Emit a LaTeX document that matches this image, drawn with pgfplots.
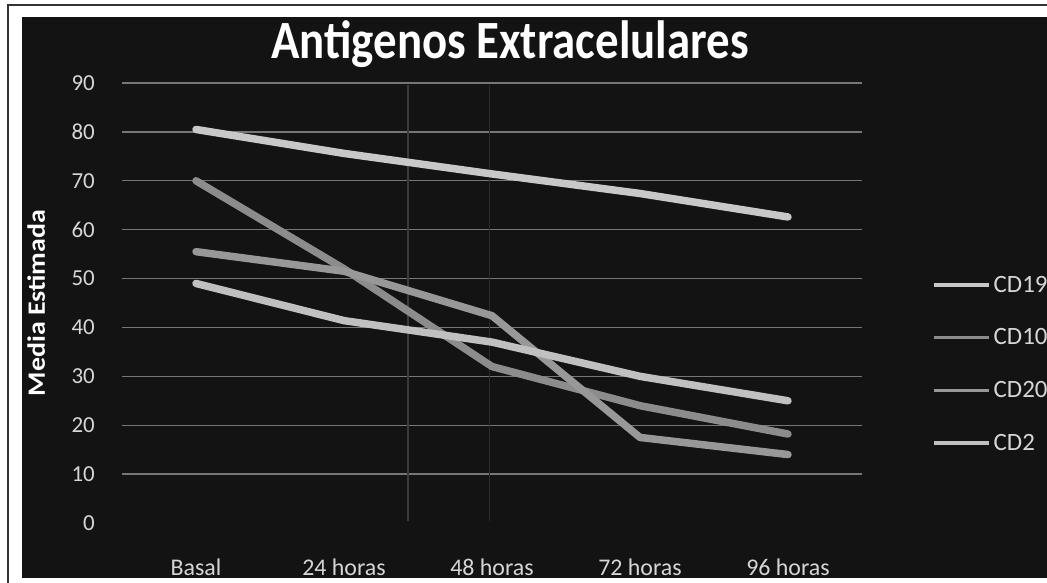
\documentclass[border=0pt]{standalone}
\usepackage{fontspec}
\setmainfont{Carlito}
\usepackage{pgfplots}
\pgfplotsset{compat=1.18}

\definecolor{bgblack}{HTML}{131313}
\definecolor{gridgray}{HTML}{767676}
\definecolor{labelgray}{HTML}{D6D6D6}
\definecolor{cdnineteen}{HTML}{C8C8C8}
\definecolor{cdten}{HTML}{8C8C8C}
\definecolor{cdtwenty}{HTML}{989898}
\definecolor{cdtwo}{HTML}{C0C0C0}
\definecolor{streak}{HTML}{3A3A3A}

\begin{document}
\begin{tikzpicture}[x=1bp,y=1bp]
% page, frame and dark chart area (origin = lower left corner of the plot area)
\begin{scope}[shift={(-122bp,-60bp)}]
\fill[white] (0,0) rectangle (1047,583);
\fill[bgblack] (22,5) rectangle (1047,566);
\draw[black!80, line width=1.5bp] (8,0) -- (8,578) -- (1047,578);
\node[anchor=base, text=white, inner sep=0pt] at (510,525)
  {\scalebox{1}[1.15]{\fontsize{47}{47}\bfseries\selectfont Antigenos Extracelulares}};
\end{scope}

\begin{axis}[
  scale only axis, width=740bp, height=440bp,
  xmin=-0.5, xmax=4.5, ymin=0, ymax=90,
  axis line style={draw=none},
  tick style={draw=none},
  major tick length=0pt,
  /pgf/number format/assume math mode=true,
  xtick={0,1,2,3,4},
  xticklabels={Basal,24 horas,48 horas,72 horas,96 horas},
  ytick={10,20,...,90},
  extra y ticks={0},
  extra y tick style={grid=none},
  ymajorgrids,
  grid style={gridgray, line width=1.3bp},
  ticklabel style={text=labelgray, inner sep=0pt},
  yticklabel style={anchor=east, xshift=-27bp, font=\fontsize{23}{23}\selectfont},
  xticklabel style={anchor=base, yshift=-52bp, font=\fontsize{24}{24}\selectfont},
  ylabel={\scalebox{1.12}[1]{\fontsize{25}{25}\bfseries\selectfont Media Estimada}},
  ylabel style={at={(axis description cs:-0.116,0.5)}, anchor=center, text=white, inner sep=0pt},
  legend image code/.code={\draw[#1, line width=3.5bp, line cap=butt] (0bp,0bp) -- (55bp,0bp);},
  legend style={at={(1.0946,0.566)}, anchor=north west, draw=none, fill=none,
    text=labelgray, font=\fontsize{25}{25}\selectfont, inner sep=0pt,
    row sep=31bp, column sep=1bp, cells={anchor=west}},
  every axis plot/.append style={line width=7.5bp, line cap=round, line join=round},
]
% faint vertical streaks in the background
\draw[color=streak, line width=1.2bp] (axis cs:1.432,0.5) -- (axis cs:1.432,89.5);
\draw[color=streak!60!bgblack, line width=1bp] (axis cs:1.986,0.5) -- (axis cs:1.986,89.5);

\addplot[cdnineteen] coordinates {(0,80.5) (1,75.6) (2,71.4) (3,67.4) (4,62.6)};
\addlegendentry{CD19}
\addplot[cdten] coordinates {(0,70) (1,52) (2,32) (3,24) (4,18.2)};
\addlegendentry{CD10}
\addplot[cdtwenty] coordinates {(0,55.5) (1,51.5) (2,42.4) (3,17.5) (4,14)};
\addlegendentry{CD20}
\addplot[cdtwo] coordinates {(0,49) (1,41.4) (2,37) (3,30) (4,25)};
\addlegendentry{CD2}
\end{axis}
\pgfresetboundingbox
\path[use as bounding box] (-122bp,-60bp) rectangle (925bp,523bp);
\end{tikzpicture}
\end{document}
